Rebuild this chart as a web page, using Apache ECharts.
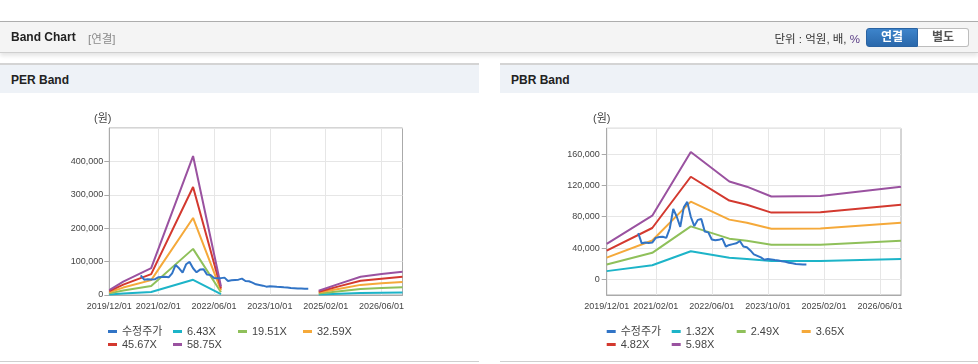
<!DOCTYPE html>
<html>
<head>
<meta charset="utf-8">
<script src="https://cdn.jsdelivr.net/npm/echarts@6/dist/echarts.min.js"></script>
<style>
  html, body { margin: 0; padding: 0; background: #fff; }
  body { width: 978px; height: 364px; position: relative; overflow: hidden;
         font-family: 'Liberation Sans', 'Noto Sans CJK KR', sans-serif; }
  #chart { position: absolute; left: 0; top: 0; width: 978px; height: 364px; z-index: 1; }
  .hdr { position: absolute; left: 0; top: 21px; width: 978px; height: 30px;
         border-top: 1px solid #adadad; border-bottom: 1px solid #cfcfcf; background: #f4f4f4;
         box-shadow: 0 3px 4px rgba(0,0,0,0.10); z-index: 2; }
  .hdr .ttl { position: absolute; left: 11px; top: 8px; font-size: 12px; font-weight: bold; color: #222; }
  .hdr .sub { position: absolute; left: 88px; top: 8px; font-size: 11.5px; color: #8a8a8a; }
  .hdr .unit { position: absolute; right: 118px; top: 8px; font-size: 11.5px; color: #333; }
  .hdr .unit .pct { color: #5a3d86; }
  .btn { position: absolute; top: 6px; height: 17px; width: 50px; font-size: 12px; font-weight: bold;
         text-align: center; line-height: 17px; box-sizing: content-box; }
  .btn.on { left: 866px; background: linear-gradient(#3d84cb, #2a68ab); border: 1px solid #2a63a2;
            border-radius: 3px 0 0 3px; color: #fff; }
  .btn.off { left: 918px; background: #fff; border: 1px solid #bdbdbd; border-left: none;
             border-radius: 0 3px 3px 0; color: #555; }
  .panel { position: absolute; top: 63px; height: 28px; border-top: 2px solid #d4d4d4; background: #eef2f7; z-index: 2; }
  .panel span { position: absolute; left: 11px; top: 8px; font-size: 12px; font-weight: bold; color: #222; }
  .pbot { position: absolute; top: 361px; height: 1px; background: #cfcfcf; z-index: 2; }
</style>
</head>
<body>
<div id="chart"></div>
<div class="hdr">
  <span class="ttl">Band Chart</span><span class="sub">[연결]</span>
  <span class="unit">단위 : 억원, 배, <span class="pct">%</span></span>
  <div class="btn on">연결</div><div class="btn off">별도</div>
</div>
<div class="panel" style="left:0;width:479px;"><span>PER Band</span></div>
<div class="panel" style="left:500px;width:478px;"><span>PBR Band</span></div>
<div class="pbot" style="left:0;width:479px;"></div>
<div class="pbot" style="left:500px;width:478px;"></div>
<script>
// ---------- data ----------
// monthly categories 2019/12 .. 2026/12
const months = [];
(function () { let y = 2019, m = 12; for (let i = 0; i < 85; i++) { months.push(y + '/' + String(m).padStart(2, '0')); m++; if (m > 12) { m = 1; y++; } } })();
const xTickLabels = ['2019/12/01', '2021/02/01', '2022/06/01', '2023/10/01', '2025/02/01', '2026/06/01'];

// adjusted price (수정주가), monthly from 2020/09
const priceStart = '2020/09';
const price = [59000, 46000, 47000, 46500, 47000, 53000, 54000, 54500, 53000, 65000,
               90000, 80000, 67000, 92000, 99000, 80000, 68000, 76000, 77000, 61000,
               60000, 51000, 50000, 50500, 52000, 42000, 44000, 45000, 46000, 49000,
               42000, 41000, 37000, 32000, 30000, 28000, 25000, 26000, 25500, 24700,
               24000, 23000, 22500, 21300, 20500, 19600, 19300, 19000, 19000];

// PER band vertices (null = gap)
const perDates = ['2019/12', '2020/04', '2020/12', '2021/12', '2022/08', '2023/06', '2024/12', '2025/06', '2025/12', '2026/06', '2026/12'];
const perNames = ['6.43X', '19.51X', '32.59X', '45.67X', '58.75X'];
const per643  = [1600, 4400, 8800, 45500, 2800, null, 1400, 3700, 6000, 6900, 7700];
const per1951 = [4900, 13300, 26700, 138100, 8400, null, 4300, 11300, 18100, 20900, 23200];
const per3259 = [8100, 22200, 44600, 230700, 14000, null, 7200, 18900, 30300, 34900, 38800];
const per4567 = [11400, 31100, 62600, 323300, 19600, null, 10000, 26500, 42500, 48900, 54300];
const per5875 = [14700, 40000, 80500, 416000, 25300, null, 12900, 34100, 54600, 62900, 69900];

// PBR band vertices
const pbrDates = ['2019/12', '2021/01', '2021/12', '2022/11', '2023/04', '2023/11', '2025/01', '2026/12'];
const pbrNames = ['1.32X', '2.49X', '3.65X', '4.82X', '5.98X'];
const pbr132 = [10500, 18000, 35900, 27600, 26100, 23400, 23500, 26100];
const pbr249 = [18900, 33900, 67700, 52000, 49300, 44100, 44300, 49300];
const pbr365 = [27700, 49600, 99300, 76300, 72300, 64600, 65000, 72300];
const pbr482 = [36600, 65600, 131100, 100700, 95400, 85300, 85800, 95400];
const pbr598 = [45400, 81300, 162700, 125000, 118400, 105800, 106400, 118400];

// ---------- styles ----------
const priceColor = '#3174c6';
const bandColors = ['#1db4c8', '#8fc05a', '#f5a93a', '#d3392f', '#9a52a0'];
const FONT = "'Liberation Sans', 'Noto Sans CJK KR', sans-serif";
const LABEL = '#444';
const GRIDC = '#e6e6e6';
const AXISC = '#aaaaaa';

function pairs(dates, vals) { return dates.map((d, i) => [d, vals[i] == null ? '-' : vals[i]]); }
const startIdx = months.indexOf(priceStart);
const pricePairs = price.map((v, i) => [months[startIdx + i], v]);
const isTick = (i, v) => xTickLabels.indexOf(v + '/01') >= 0;
const fmt = v => (Math.abs(v) < 1e-9 ? 0 : v).toLocaleString('en-US');

function xAxis(g) {
  return {
    type: 'category', gridIndex: g, data: months, boundaryGap: false,
    axisLine: { show: true, onZero: false, lineStyle: { color: AXISC } },
    axisTick: { show: false },
    axisLabel: { interval: isTick, formatter: v => v + '/01', fontSize: 9, color: LABEL, margin: 7, fontFamily: FONT },
    splitLine: { show: true, interval: isTick, lineStyle: { color: GRIDC } }
  };
}
function yAxis(g, extra, shift) {
  return Object.assign({
    type: 'value', gridIndex: g, name: '(원)', nameLocation: 'end', nameGap: 4,
    nameTextStyle: { fontSize: 11, color: LABEL, fontFamily: FONT, align: 'center', verticalAlign: 'bottom', padding: [0, shift, 0, 0] },
    axisLine: { show: true, onZero: false, lineStyle: { color: AXISC } },
    axisTick: { show: true, length: 5, lineStyle: { color: AXISC } },
    splitLine: { show: true, lineStyle: { color: GRIDC } }
  }, extra);
}
function line(name, data, color, xi, z) {
  return { type: 'line', name: name, xAxisIndex: xi, yAxisIndex: xi, data: data, showSymbol: false, symbol: 'none',
           lineStyle: { width: 2, color: color }, itemStyle: { color: color }, z: z, animation: false };
}
function legend(left, names) {
  return { left: left, top: 326, width: 265, padding: 0, itemGap: 2, itemWidth: 9, itemHeight: 3, icon: 'rect',
           data: names, selectedMode: false,
           textStyle: { fontSize: 11, color: '#444', fontFamily: FONT, lineHeight: 11, width: 49, overflow: 'truncate' } };
}

const perSeriesVals = [per643, per1951, per3259, per4567, per5875];
const pbrSeriesVals = [pbr132, pbr249, pbr365, pbr482, pbr598];

const series = [line('수정주가', pricePairs, priceColor, 0, 4)];
perSeriesVals.forEach((vals, k) => series.push(line(perNames[k], pairs(perDates, vals), bandColors[k], 0, 3)));
series.push(line('수정주가', pricePairs, priceColor, 1, 4));
pbrSeriesVals.forEach((vals, k) => series.push(line(pbrNames[k], pairs(pbrDates, vals), bandColors[k], 1, 3)));

const chart = echarts.init(document.getElementById('chart'), null, { renderer: 'canvas' });
chart.setOption({
  animation: false,
  textStyle: { fontFamily: FONT },
  grid: [
    { left: 109.3, top: 128, width: 293.2, height: 167, show: true, borderColor: AXISC, borderWidth: 1 },
    { left: 606.7, top: 128.3, width: 294.3, height: 166.7, show: true, borderColor: AXISC, borderWidth: 1 }
  ],
  xAxis: [xAxis(0), xAxis(1)],
  yAxis: [
    yAxis(0, { min: 0, max: 500000, interval: 100000,
               axisLabel: { showMaxLabel: false, formatter: fmt, fontSize: 9, color: LABEL, margin: 6, fontFamily: FONT } }, 13),
    yAxis(1, { min: -20000, max: 193000, minInterval: 40000, maxInterval: 40000,
               axisLabel: { showMinLabel: false, showMaxLabel: false, formatter: fmt, fontSize: 9, color: LABEL, margin: 7, fontFamily: FONT } }, 10)
  ],
  legend: [legend(108, ['수정주가'].concat(perNames)), legend(606.7, ['수정주가'].concat(pbrNames))],
  series: series
});
</script>
</body>
</html>
